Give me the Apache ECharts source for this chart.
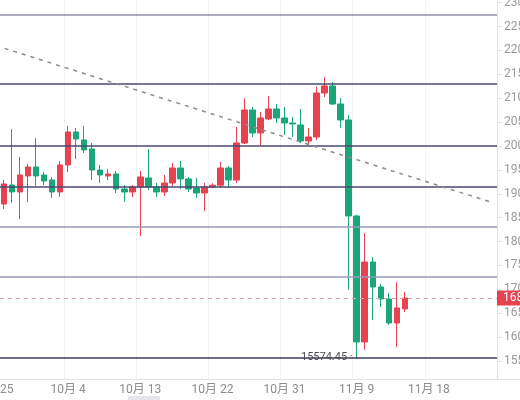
<!DOCTYPE html>
<html>
<head>
<meta charset="utf-8">
<script src="https://cdn.jsdelivr.net/npm/echarts/dist/echarts.min.js"></script>
<style>html,body{margin:0;padding:0;background:#fff}#c{width:520px;height:400px}</style>
</head>
<body>
<div id="c"></div>
<script>
// Categories (daily) from 9月 25 to 11月 26
const categories = [
  '9月 25','9月 26','9月 27','9月 28','9月 29','9月 30',
  '10月 1','10月 2','10月 3','10月 4','10月 5','10月 6','10月 7','10月 8','10月 9','10月 10',
  '10月 11','10月 12','10月 13','10月 14','10月 15','10月 16','10月 17','10月 18','10月 19','10月 20',
  '10月 21','10月 22','10月 23','10月 24','10月 25','10月 26','10月 27','10月 28','10月 29','10月 30','10月 31',
  '11月 1','11月 2','11月 3','11月 4','11月 5','11月 6','11月 7','11月 8','11月 9','11月 10',
  '11月 11','11月 12','11月 13','11月 14','11月 15','11月 16','11月 17','11月 18','11月 19','11月 20',
  '11月 21','11月 22','11月 23','11月 24','11月 25','11月 26'
];
// First candle is on 9月 26
const firstCandleDate = '9月 26';
const opens = [18786,19184,19038,19373,19561,19394,19289,19038,19603,20294,20126,19938,19498,19373,19414,19100,19038,19142,19331,19142,19038,19226,19540,19310,19121,19017,19142,19180,19540,19289,20063,20754,20273,20566,20775,20587,20482,20440,20105,20189,21110,21257,20880,20545,18535,15898,17572,17049,16798,16295,16589];
const closes = [19205,19038,19394,19561,19373,19268,19038,19603,20294,20147,19917,19498,19394,19414,19100,19038,19142,19352,19142,19038,19226,19540,19310,19100,19017,19142,19180,19540,19289,20063,20754,20273,20587,20775,20587,20482,20461,20105,20189,21110,21257,20880,20545,18535,15898,17572,17049,16798,16295,16609,16819];
const lows = [18682,18807,18472,18828,19163,19184,18912,18933,19456,19728,19854,19289,19226,19289,19017,18828,18933,18117,19080,18933,18954,19163,19100,19038,18912,18640,19121,19121,19142,19226,20040,20189,20001,20540,20482,20231,20189,20063,20022,20126,21026,20859,20377,16986,15574.45,15730,16358,16630,16254,15793,16526];
const highs = [19289,20356,19770,19624,20168,19456,19352,19687,20419,20377,20419,20063,19603,19519,19477,19184,19184,19477,19938,19226,19394,19645,19687,19352,19331,19226,19220,19666,19582,20398,21005,20817,20712,21047,20880,20817,20608,20775,20377,21246,21445,21340,21005,20650,18560,18179,17677,17112,16923,17154,16944];
// Y axis tick labels
const yTicks = [15500,16000,16500,17000,17500,18000,18500,19000,19500,20000,20500,21000,21500,22000,22500,23000];
// Horizontal level lines
const levels = [22743, 21300, 20000, 19155, 18305, 17260, 15574.45];
const levelColors = ['#8e8ca8','#4a4870','#4a4870','#4a4870','#9a98b4','#9a98b4','#3c3a5e'];
// Dashed trend line endpoints [category, value]
const trendStart = ['9月 25', 22100];
const trendEnd = ['11月 26', 18812];
// Last price and minimum
const lastPrice = 16819;
const minPoint = ['11月 9', 15574.45];

const startIdx = categories.indexOf(firstCandleDate);
const candleData = categories.map((c, i) => {
  const k = i - startIdx;
  if (k < 0 || k >= opens.length) return ['-','-','-','-'];
  return [opens[k], closes[k], lows[k], highs[k]];
});

const FONT = 'Roboto, "Noto Sans CJK SC", sans-serif';
const chart = echarts.init(document.getElementById('c'), null, {renderer: 'canvas'});
chart.setOption({
  animation: false,
  backgroundColor: '#ffffff',
  grid: {left: -8, right: 23, top: 0, bottom: 21, containLabel: false, outerBoundsMode: 'none'},
  xAxis: {
    type: 'category',
    data: categories,
    boundaryGap: true,
    axisLine: {show: true, lineStyle: {color: '#e2e2e2'}},
    axisTick: {show: false, alignWithLabel: true, interval: 8},
    axisLabel: {interval: 8, color: '#8c8c8c', fontSize: 12, margin: 5, fontFamily: FONT, hideOverlap: false},
    splitLine: {show: true, interval: 8, lineStyle: {color: '#f3f3f5'}}
  },
  yAxis: {
    type: 'value',
    position: 'right',
    min: 15123,
    max: 23056,
    splitNumber: 16,
    minInterval: 500,
    maxInterval: 500,
    axisLine: {show: true, lineStyle: {color: '#e2e2e2'}},
    axisTick: {show: true, length: 5, lineStyle: {color: '#e2e2e2'}, customValues: yTicks},
    axisLabel: {color: '#9a9a9a', fontSize: 12, margin: 7, fontFamily: FONT, customValues: yTicks,
      formatter: v => (v % 500 === 0 ? String(v) : '')},
    splitLine: {show: false}
  },
  series: [{
    type: 'candlestick',
    data: candleData,
    barWidth: 6,
    itemStyle: {
      color: '#e6424f', color0: '#1ba57a',
      borderColor: '#e6424f', borderColor0: '#1ba57a', borderWidth: 1
    },
    markLine: {
      silent: true,
      symbol: ['none', 'none'],
      animation: false,
      data: [
        ...levels.map((v, i) => ({yAxis: v, lineStyle: {color: levelColors[i], width: 1.5, type: 'solid'}, label: {show: false}})),
        [{coord: trendStart, lineStyle: {color: '#8a8a94', width: 1.5, type: [4, 5]}, label: {show: false}},
         {coord: trendEnd}],
        {yAxis: lastPrice, lineStyle: {color: '#d9a3ab', width: 1, type: [4, 4]},
          label: {show: true, position: 'end', distance: 0, formatter: String(lastPrice) + '.00',
            color: '#fff', backgroundColor: '#e6424f', padding: [2, 4, 1, 6], fontSize: 12, fontFamily: FONT}}
      ]
    },
    markPoint: {
      silent: true,
      animation: false,
      data: [{coord: minPoint, value: minPoint[1], symbol: 'circle', symbolSize: 2,
        itemStyle: {color: '#555'},
        label: {show: true, position: 'left', distance: 3, formatter: '{c} ·', color: '#4a4a55', fontSize: 11, fontFamily: FONT}}]
    }
  }],
  graphic: [
    {type: 'line', shape: {x1: 497, y1: 379.5, x2: 520, y2: 379.5}, style: {stroke: '#e2e2e2', lineWidth: 1}, silent: true},
    {type: 'rect', shape: {x: 128, y: 396, width: 32, height: 4}, style: {fill: '#e4e4ea'}, silent: true}
  ]
});
</script>
</body>
</html>
